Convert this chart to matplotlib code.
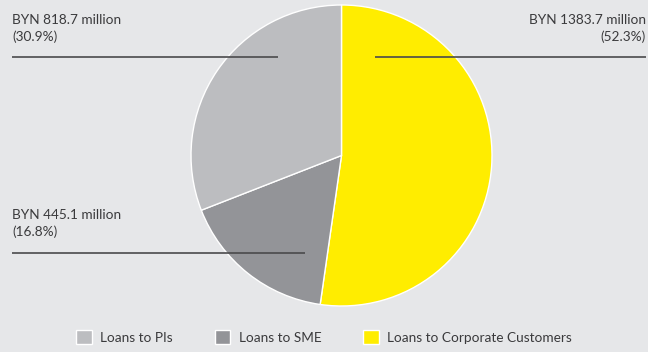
import matplotlib
matplotlib.use("Agg")
import matplotlib.pyplot as plt
from matplotlib.patches import Patch

# Loan portfolio structure
categories = ["Loans to Corporate Customers", "Loans to SME", "Loans to PIs"]
amounts = [1383.7, 445.1, 818.7]          # BYN million
shares = [52.3, 16.8, 30.9]               # percent
colors = ["#ffed00", "#939498", "#bcbdc0"]
legend_order = ["Loans to PIs", "Loans to SME", "Loans to Corporate Customers"]

BG = "#e6e7e9"
TEXT = "#3a3a3c"
LINE = "#4a4a4c"

W, H = 648, 352
fig = plt.figure(figsize=(W / 100, H / 100), dpi=100, facecolor=BG)
ax = fig.add_axes([0, 0, 1, 1])
ax.set_facecolor(BG)

# pie: first wedge starts at 12 o'clock and runs clockwise
ax.pie(amounts, colors=colors, startangle=90, counterclock=False,
       center=(341.5, H - 155.5), radius=150.5, frame=True,
       wedgeprops=dict(edgecolor="white", linewidth=1.0))
ax.set_xlim(0, W)
ax.set_ylim(0, H)
ax.set_aspect("equal")
ax.axis("off")

font = "Lato"
fs = 9.8


def label(idx, x, y, ha, line_x0, line_x1, line_y):
    txt = f"BYN {amounts[idx]} million\n({shares[idx]}%)"
    ax.text(x, H - y, txt, ha=ha, va="top", fontsize=fs, family=font,
            color=TEXT, linespacing=1.4, multialignment=ha)
    ax.plot([line_x0, line_x1], [H - line_y, H - line_y], color=LINE, lw=1.2,
            solid_capstyle="butt", zorder=5)


label(2, 12, 14, "left", 12, 278, 56.5)
label(0, 646, 14, "right", 375, 646, 56.5)
label(1, 12, 209, "left", 12, 305, 252.5)

handles = [Patch(facecolor=colors[categories.index(n)], edgecolor="white", linewidth=1.0)
           for n in legend_order]
leg = ax.legend(handles, legend_order, loc="center", bbox_to_anchor=(0.5, 1 - 337 / H),
                bbox_transform=fig.transFigure, ncol=3, frameon=False,
                prop=dict(family=font, size=fs), labelcolor=TEXT,
                handlelength=1.15, handleheight=1.15, handletextpad=0.6,
                columnspacing=3.1, borderpad=0)

fig.savefig("out.png", dpi=100, facecolor=BG)
